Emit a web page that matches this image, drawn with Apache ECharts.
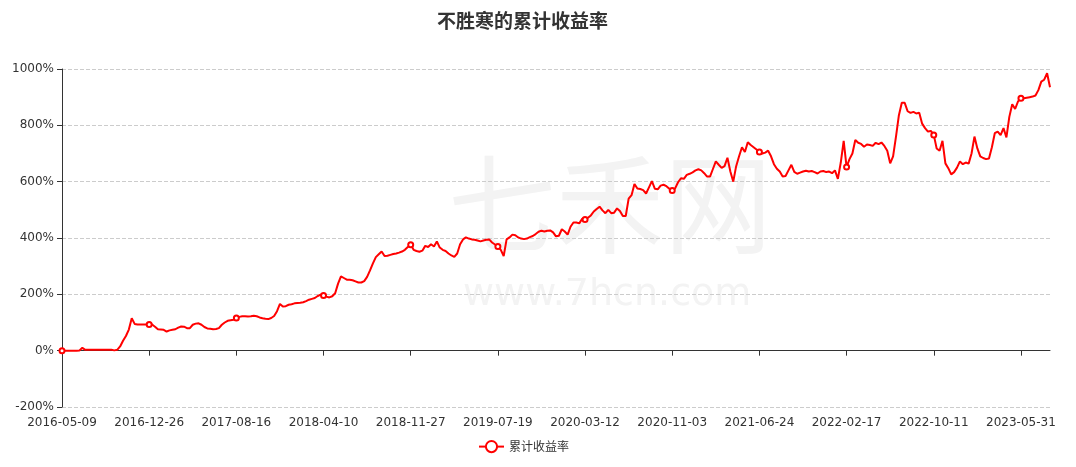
<!DOCTYPE html>
<html>
<head>
<meta charset="utf-8">
<script src="https://cdn.jsdelivr.net/npm/echarts@6/dist/echarts.min.js"></script>
<style>html,body{margin:0;padding:0;background:#fff;}#c{width:1076px;height:467px;}</style>
</head>
<body>
<div id="c"></div>
<script>
const chartTitle = '不胜寒的累计收益率';
const seriesName = '累计收益率';
const tickLabels = ['2016-05-09','2016-12-26','2017-08-16','2018-04-10','2018-11-27','2019-07-19','2020-03-12','2020-11-03','2021-06-24','2022-02-17','2022-10-11','2023-05-31'];
const pointsPerLabel = 30;
// cumulative return (%) sampled along the trading-day axis
const returnsA = [0,0,0,0,0,0,1,10,3,3,3,3,3,3,3,3,3,3,1,3,15,35,52,75,115,95,93,93,93,93,93,
  93,85,76,75,74,68,72,74,76,82,86,85,80,80,92,96,97,92,84,79,78,76,77,80,92,100,106,108,110,116,
  120,122,122,121,122,124,122,118,115,113,112,116,123,140,166,157,158,163,165,168,169,170,172,176,181,184,187,194,199,196];
const returnsB = [192,189,193,204,238,264,258,252,252,250,246,242,242,247,262,285,310,332,342,352,336,337,340,343,345,348,352,358,368,376,
  358,354,351,355,372,368,378,370,388,366,358,354,345,338,333,345,378,395,402,398,395,394,391,388,391,394,395,384,377,370,
  358,336,395,402,412,410,402,398,396,398,403,407,414,422,426,423,426,427,420,406,408,431,423,412,440,455,455,452,468,466];
const returnsC = [472,480,494,503,511,498,488,500,488,490,505,496,478,478,540,552,592,576,574,570,558,580,602,575,573,586,589,584,575,569,
  576,598,612,610,624,628,633,640,644,640,630,618,618,645,672,660,649,655,685,636,600,655,690,722,705,740,730,722,714,705,
  700,703,710,690,662,646,636,618,620,640,660,635,628,632,636,639,636,638,634,629,636,638,634,636,630,640,610,668,745,652];
const returnsD = [680,700,748,738,734,724,732,730,727,738,733,739,727,710,665,690,760,836,880,880,850,844,848,842,845,806,790,778,780,766,
  718,710,745,665,648,626,634,650,672,662,668,664,700,760,718,690,684,680,682,722,772,778,765,790,757,830,875,858,885,896,
  896,898,900,902,906,925,955,962,985,935];
const returns = returnsA.concat(returnsB, returnsC, returnsD);
const categories = returns.map((v, i) => String(i));

const chart = echarts.init(document.getElementById('c'));
chart.setOption({
  animation: false,
  backgroundColor: '#fff',
  textStyle: { fontFamily: 'DejaVu Sans, sans-serif' },
  title: {
    text: chartTitle,
    left: 432,
    top: 6,
    textStyle: { fontSize: 19, fontWeight: 'bold', color: '#333', fontFamily: 'Noto Sans CJK SC, sans-serif' }
  },
  graphic: [
    { type: 'text', left: 448, top: 150, z: -10, silent: true,
      style: { text: '七禾网', fontSize: 108, fill: '#f3f3f3', fontFamily: 'Noto Sans CJK SC, sans-serif' } },
    { type: 'text', left: 463, top: 276, z: -10, silent: true,
      style: { text: 'www.7hcn.com', fontSize: 38, fill: '#f3f3f3', fontFamily: 'DejaVu Sans, sans-serif' } }
  ],
  legend: {
    data: [seriesName],
    left: 473,
    top: 435,
    itemWidth: 25,
    itemHeight: 14,
    textStyle: { color: '#333', fontSize: 12, fontFamily: 'Noto Sans CJK SC, sans-serif' }
  },
  grid: { left: 62, right: 26, top: 69, bottom: 60, outerBoundsMode: 'none', containLabel: false },
  xAxis: {
    type: 'category',
    data: categories,
    boundaryGap: false,
    axisLine: { onZero: true, lineStyle: { color: '#333' } },
    axisTick: { show: true, interval: pointsPerLabel - 1, length: 5, lineStyle: { color: '#333' } },
    axisLabel: {
      interval: pointsPerLabel - 1,
      margin: 10,
      color: '#333',
      fontSize: 12,
      formatter: (val) => tickLabels[Number(val) / pointsPerLabel]
    },
    splitLine: { show: false }
  },
  yAxis: {
    type: 'value',
    min: -200,
    max: 1000,
    interval: 200,
    axisLine: { show: true, lineStyle: { color: '#333' } },
    axisTick: { show: true, length: 5, lineStyle: { color: '#333' } },
    axisLabel: { formatter: (v) => v + '%', color: '#333', fontSize: 12 },
    splitLine: { show: true, lineStyle: { type: 'dashed', color: '#ccc' } }
  },
  series: [{
    name: seriesName,
    type: 'line',
    data: returns,
    symbol: 'emptyCircle',
    symbolSize: 5,
    showAllSymbol: 'auto',
    itemStyle: { color: '#ff0000' },
    lineStyle: { color: '#ff0000', width: 2 }
  }]
});
</script>
</body>
</html>
